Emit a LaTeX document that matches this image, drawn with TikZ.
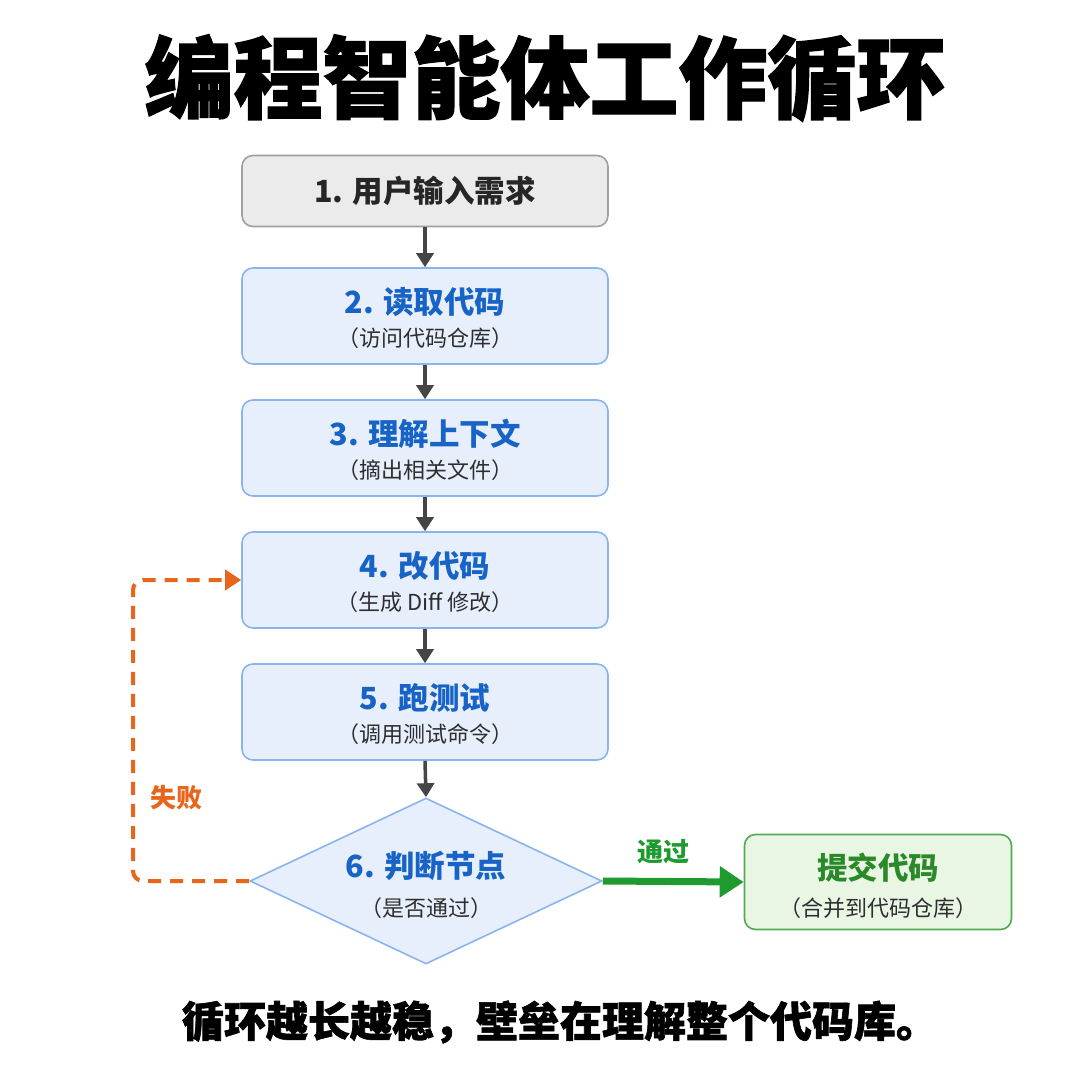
\documentclass[tikz,border=0pt]{standalone}
\usepackage{fontspec}
\usetikzlibrary{shapes.geometric,arrows.meta}
\setmainfont{Noto Sans CJK SC}
\newfontfamily\heavy{Noto Sans CJK SC}[BoldFeatures={FakeBold=1.5}]
\definecolor{grayfill}{HTML}{EBEBEB}
\definecolor{grayline}{HTML}{A0A0A0}
\definecolor{bluefill}{HTML}{E7EFFC}
\definecolor{blueline}{HTML}{8AB4EE}
\definecolor{bluetext}{HTML}{1763C6}
\definecolor{subtext}{HTML}{2E2E2E}
\definecolor{greenfill}{HTML}{E9F6E4}
\definecolor{greenline}{HTML}{52AA52}
\definecolor{greentext}{HTML}{2A8A2A}
\definecolor{greenarrow}{HTML}{1E9A2E}
\definecolor{orangec}{HTML}{E8661C}
\definecolor{arrowgray}{HTML}{454545}
\tikzset{
  boxbase/.style={draw, line width=1.6pt, rounded corners=11pt, minimum width=366pt, inner sep=0pt, text=black},
  stepbox/.style={boxbase, fill=bluefill, draw=blueline, minimum height=96pt},
  startbox/.style={boxbase, fill=grayfill, draw=grayline, minimum height=71pt},
  donebox/.style={boxbase, fill=greenfill, draw=greenline, minimum width=267pt, minimum height=95pt},
  decision/.style={diamond, draw=blueline, fill=bluefill, line width=1.6pt, inner sep=0pt, minimum width=352pt, minimum height=166pt},
  ttl/.style={font=\fontsize{30.5pt}{34pt}\selectfont\bfseries, text=bluetext, inner sep=0pt},
  subl/.style={font=\fontsize{22pt}{26pt}\selectfont, text=subtext, inner sep=0pt},
  flow/.style={draw=arrowgray, line width=3.5pt, -{Triangle[length=14pt,width=17pt]}},
}
\begin{document}
\begin{tikzpicture}[x=1pt,y=-1pt]
\path[use as bounding box, fill=white] (0,0) rectangle (1080,1080);
\node[font=\fontsize{89pt}{96pt}\selectfont\heavy\bfseries, inner sep=0pt] (title) at (545,78) {编程智能体工作循环};

\node[startbox] (b1) at (425,191) {};
\node[ttl, text=black!85] (b1t) at (b1.center) {1. 用户输入需求};

\node[stepbox] (b2) at (425,316) {};
\node[ttl] (b2t) at ([yshift=14pt]b2.center) {2. 读取代码};
\node[subl] (b2s) at ([yshift=-22pt]b2.center) {（访问代码仓库）};

\node[stepbox] (b3) at (425,448) {};
\node[ttl] (b3t) at ([yshift=14pt]b3.center) {3. 理解上下文};
\node[subl] (b3s) at ([yshift=-22pt]b3.center) {（摘出相关文件）};

\node[stepbox] (b4) at (425,580) {};
\node[ttl] (b4t) at ([yshift=14pt]b4.center) {4. 改代码};
\node[subl] (b4s) at ([yshift=-22pt]b4.center) {（生成 Diff 修改）};

\node[stepbox] (b5) at (425,712) {};
\node[ttl] (b5t) at ([yshift=14pt]b5.center) {5. 跑测试};
\node[subl] (b5s) at ([yshift=-22pt]b5.center) {（调用测试命令）};

\node[decision] (d6) at (426,881) {};
\node[ttl] (d6t) at ([yshift=15pt]d6.center) {6. 判断节点};
\node[subl] (d6s) at ([yshift=-27pt]d6.center) {（是否通过）};

\node[donebox] (ok) at (878,882) {};
\node[ttl, text=greentext] (okt) at ([yshift=14pt]ok.center) {提交代码};
\node[subl] (oks) at ([yshift=-26pt]ok.center) {（合并到代码仓库）};

\draw[flow] (b1.south) -- (b2.north);
\draw[flow] (b2.south) -- (b3.north);
\draw[flow] (b3.south) -- (b4.north);
\draw[flow] (b4.south) -- (b5.north);
\draw[flow] (b5.south) -- (d6.north);

\draw[draw=greenarrow, line width=7pt, -{Triangle[length=24pt,width=30pt]}] (d6.east) -- (ok.west);
\node[font=\fontsize{26pt}{30pt}\selectfont\bfseries, text=greenarrow, inner sep=0pt] (pass) at (663,852) {通过};

\coordinate (loopx) at (133,881);
\draw[draw=orangec, line width=4pt, dash pattern=on 13pt off 9pt, rounded corners=10pt, -{Triangle[length=16pt,width=20pt]}]
  (d6.west) -- (loopx) |- (b4.west);
\node[font=\fontsize{26pt}{30pt}\selectfont\bfseries, text=orangec, inner sep=0pt] (fail) at (176,798) {失败};

\node[font=\fontsize{42pt}{48pt}\selectfont\heavy\bfseries, inner sep=0pt] (foot) at (560,1022) {循环越长越稳，壁垒在理解整个代码库。};
\end{tikzpicture}
\end{document}
